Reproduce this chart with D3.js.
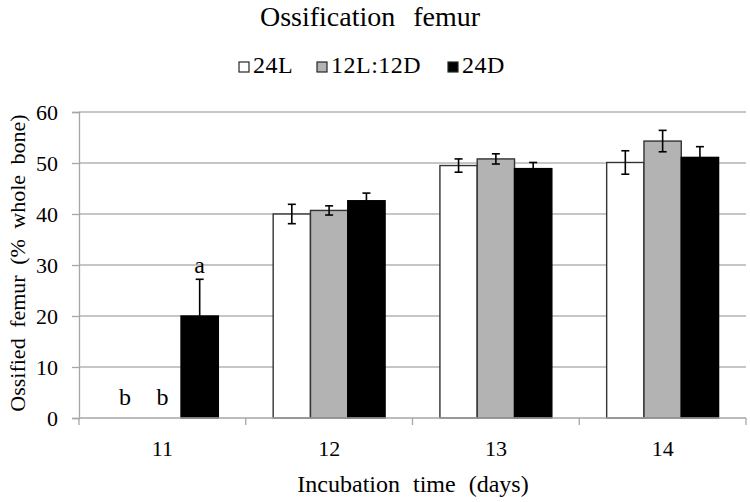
<!DOCTYPE html>
<html><head><meta charset="utf-8">
<script src="https://cdn.jsdelivr.net/npm/d3@7"></script>
<style>
body{margin:0;background:#fff;}
svg text{font-family:"Liberation Serif","Times New Roman",Tinos,"DejaVu Serif",serif;fill:#000;}
</style></head>
<body><svg id="c" width="750" height="502"></svg>
<script>
const days = ["11","12","13","14"];
const series = ["24L","12L:12D","24D"];
const fills = ["#ffffff","#b3b3b3","#000000"];
const vals24L  = [0, 40.0, 49.5, 50.1];
const vals12L  = [0, 40.7, 50.8, 54.3];
const vals24D  = [20.0, 42.6, 48.9, 51.1];
const err24L   = [null, 1.9, 1.3, 2.3];
const err12L   = [null, 0.9, 1.0, 2.1];
const err24D   = [7.2, 1.5, 1.2, 2.1];
const letters  = [["b","b","a"], null, null, null];
const yTicks = [0,10,20,30,40,50,60];

const values = [vals24L, vals12L, vals24D];
const errs = [err24L, err12L, err24D];

const svg = d3.select("#c");
const FONT = "'Liberation Serif','Times New Roman',Tinos,'DejaVu Serif',serif";
const L = 79, R = 746, T = 112, B = 418;
const x0 = d3.scaleBand().domain(days).range([L, R]).padding(0);
const x1 = d3.scaleBand().domain(series).range([0, x0.bandwidth()]).paddingInner(0).paddingOuter(0.735);
const y = d3.scaleLinear().domain([0, 60]).range([B, T]);

// gridlines
svg.append("g").selectAll("line").data(yTicks.filter(d=>d>0)).join("line")
  .attr("x1", L).attr("x2", R).attr("y1", d=>y(d)).attr("y2", d=>y(d))
  .attr("stroke", "#b3b3b3").attr("stroke-width", 1.3);

// y axis
const ya = svg.append("g").attr("transform", `translate(${L},0)`)
  .call(d3.axisLeft(y).tickValues(yTicks).tickSize(7).tickPadding(14));
ya.attr("font-family", FONT);
ya.select(".domain").attr("stroke", "#a6a6a6").attr("stroke-width", 1.3);
ya.selectAll(".tick line").attr("stroke", "#a6a6a6").attr("stroke-width", 1.3);
ya.selectAll(".tick text").attr("font-size", 22).attr("dy", "0.36em");

// bars
const data = [];
days.forEach((d, i) => series.forEach((s, j) => data.push({d, s, j, v: values[j][i], e: errs[j][i]})));
svg.append("g").selectAll("rect").data(data.filter(o=>o.v>0)).join("rect")
  .attr("x", o => x0(o.d) + x1(o.s))
  .attr("y", o => y(o.v))
  .attr("width", x1.bandwidth())
  .attr("height", o => y(0) - y(o.v))
  .attr("fill", o => fills[o.j])
  .attr("stroke", o => o.j === 2 ? "#000" : "#333")
  .attr("stroke-width", 1.4);

// error bars
const eg = svg.append("g").attr("stroke", "#000").attr("stroke-width", 1.6);
data.filter(o => o.e != null).forEach(o => {
  const cx = x0(o.d) + x1(o.s) + x1.bandwidth()/2;
  const yt = y(o.v + o.e), yb = y(o.v - o.e);
  eg.append("line").attr("x1", cx).attr("x2", cx).attr("y1", yt).attr("y2", yb);
  eg.append("line").attr("x1", cx-4).attr("x2", cx+4).attr("y1", yt).attr("y2", yt);
  eg.append("line").attr("x1", cx-4).attr("x2", cx+4).attr("y1", yb).attr("y2", yb);
});

// x axis
const xa = svg.append("g").attr("transform", `translate(0,${B})`);
xa.append("line").attr("x1", L).attr("x2", R).attr("y1", 0).attr("y2", 0)
  .attr("stroke", "#a6a6a6").attr("stroke-width", 1.3);
const bounds = days.map(d => x0(d)).concat([R]);
xa.selectAll("line.tk").data(bounds).join("line").attr("class","tk")
  .attr("x1", d=>d).attr("x2", d=>d).attr("y1", 0).attr("y2", 7)
  .attr("stroke", "#a6a6a6").attr("stroke-width", 1.3);
xa.selectAll("text").data(days).join("text")
  .attr("x", d => x0(d) + x0.bandwidth()/2).attr("y", 38)
  .attr("text-anchor", "middle").attr("font-size", 22).text(d=>d);

// significance letters
letters.forEach((arr, i) => {
  if (!arr) return;
  arr.forEach((t, j) => {
    const v = values[j][i], e = errs[j][i] || 0;
    const cx = x0(days[i]) + x1(series[j]) + x1.bandwidth()/2;
    svg.append("text").attr("x", cx).attr("y", y(v + e) - (v > 0 ? 6 : 13))
      .attr("text-anchor", "middle").attr("font-size", 24).text(t);
  });
});

// title
svg.append("text").attr("x", 370).attr("y", 26).attr("text-anchor", "middle")
  .attr("font-size", 28).attr("word-spacing", 11).text("Ossification femur");

// legend
const legX = [239, 317, 448];
const lg = svg.append("g");
series.forEach((s, j) => {
  lg.append("rect").attr("x", legX[j]).attr("y", 62).attr("width", 10).attr("height", 10)
    .attr("fill", fills[j]).attr("stroke", "#262626").attr("stroke-width", 1.2);
  lg.append("text").attr("x", legX[j] + 14).attr("y", 73).attr("font-size", 24)
    .attr("letter-spacing", 0.5).text(s);
});

// axis titles
svg.append("text").attr("x", 413).attr("y", 492).attr("text-anchor", "middle")
  .attr("font-size", 24).attr("word-spacing", 7).text("Incubation time (days)");
svg.append("text").attr("transform", "translate(25,263) rotate(-90)").attr("text-anchor", "middle")
  .attr("font-size", 22).attr("word-spacing", 5).text("Ossified femur (% whole bone)");
</script></body></html>
